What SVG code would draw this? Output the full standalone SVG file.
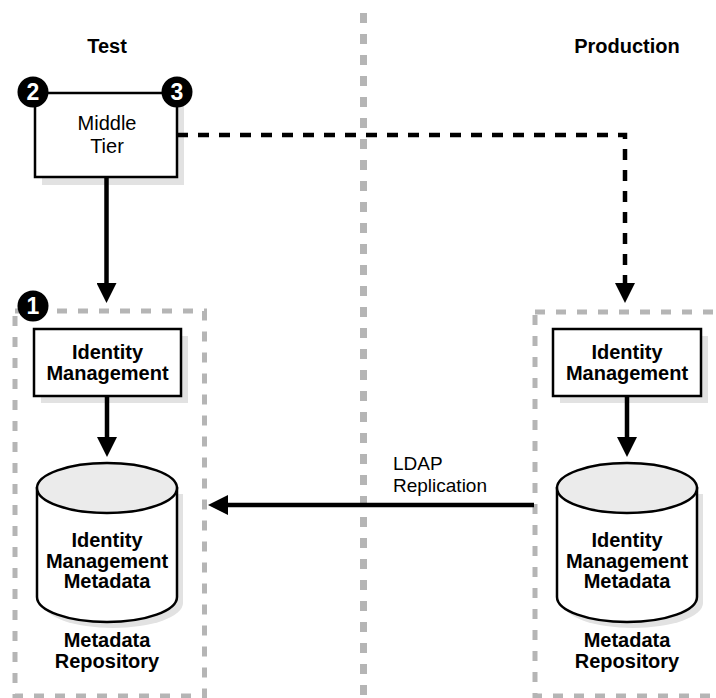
<svg xmlns="http://www.w3.org/2000/svg" width="716" height="698" viewBox="0 0 716 698">
  <defs>
    <style>
      text { font-family: "Liberation Sans", Arial, sans-serif; fill: #000; text-anchor: middle; }
      .bold { font-weight: bold; font-size: 20px; }
      .reg { font-size: 20px; }
      .box { fill: #fff; stroke: #000; stroke-width: 2.5; }
      .shadow { fill: #e2e2e2; stroke: none; }
      .cyl { fill: #fff; stroke: #000; stroke-width: 2.5; }
      .cyltop { fill: #ebebeb; stroke: #000; stroke-width: 2.5; }
      .group { fill: none; stroke: #b5b5b5; stroke-width: 5; stroke-dasharray: 10 11; }
      .divider { fill: none; stroke: #b5b5b5; stroke-width: 7; stroke-dasharray: 10 11; }
      .solid { fill: none; stroke: #000; stroke-width: 4.5; }
      .dashed { fill: none; stroke: #000; stroke-width: 4.5; stroke-dasharray: 11 10; }
      .badge { fill: #000; }
      .badge-num { fill: #fff; font-weight: bold; font-size: 23px; }
    </style>
    <marker id="arrow" markerUnits="userSpaceOnUse" markerWidth="20" markerHeight="20" refX="10" refY="10" orient="auto">
      <path d="M0,0 L20,10 L0,20 z" fill="#000"/>
    </marker>
    <!-- cylinder body / shadow outline, drawn relative to its own origin -->
    <path id="cylBody" d="M0,0 L0,109 A70,25 0 0 0 140,109 L140,0 z"/>
  </defs>

  <rect width="716" height="698" fill="#fff"/>

  <!-- dividing line between the environments -->
  <line class="divider" x1="363.5" y1="13" x2="363.5" y2="698"/>

  <!-- column headings -->
  <text class="bold" x="107" y="53">Test</text>
  <text class="bold" x="627" y="53">Production</text>

  <!-- grouping frames -->
  <g id="test-repository-group">
    <rect class="group" x="15" y="311" width="189.5" height="385"/>
  </g>
  <g id="prod-repository-group">
    <rect class="group" x="535" y="312" width="200" height="384"/>
  </g>

  <!-- Middle Tier -->
  <g id="middle-tier">
    <rect class="shadow" x="42" y="100" width="142" height="85"/>
    <rect class="box" x="35" y="93" width="142" height="84"/>
    <text class="reg" x="107" y="130">Middle</text>
    <text class="reg" x="107" y="153">Tier</text>
  </g>

  <!-- Test: Identity Management -->
  <g id="test-idm">
    <rect class="shadow" x="41" y="336" width="147" height="67"/>
    <rect class="box" x="34" y="329" width="147" height="67"/>
    <text class="bold" x="107.5" y="359">Identity</text>
    <text class="bold" x="107.5" y="380">Management</text>
  </g>

  <!-- Test: metadata repository -->
  <g id="test-repo">
    <use href="#cylBody" x="43" y="494" class="shadow"/>
    <use href="#cylBody" x="37" y="488" class="cyl"/>
    <ellipse class="cyltop" cx="107" cy="488" rx="70" ry="25"/>
    <text class="bold" x="107" y="547">Identity</text>
    <text class="bold" x="107" y="568">Management</text>
    <text class="bold" x="107" y="588">Metadata</text>
    <text class="bold" x="107" y="647">Metadata</text>
    <text class="bold" x="107" y="668">Repository</text>
  </g>

  <!-- Production: Identity Management -->
  <g id="prod-idm">
    <rect class="shadow" x="560" y="336" width="148" height="67"/>
    <rect class="box" x="553" y="329" width="148" height="67"/>
    <text class="bold" x="627" y="359">Identity</text>
    <text class="bold" x="627" y="380">Management</text>
  </g>

  <!-- Production: metadata repository -->
  <g id="prod-repo">
    <use href="#cylBody" x="563" y="494" class="shadow"/>
    <use href="#cylBody" x="557" y="488" class="cyl"/>
    <ellipse class="cyltop" cx="627" cy="488" rx="70" ry="25"/>
    <text class="bold" x="627" y="547">Identity</text>
    <text class="bold" x="627" y="568">Management</text>
    <text class="bold" x="627" y="588">Metadata</text>
    <text class="bold" x="627" y="647">Metadata</text>
    <text class="bold" x="627" y="668">Repository</text>
  </g>

  <!-- connectors -->
  <g id="connectors">
    <path class="solid" d="M106.5,177 V293" marker-end="url(#arrow)"/>
    <path class="dashed" d="M177,135 H625 V293" marker-end="url(#arrow)"/>
    <path class="solid" d="M107,396 V447" marker-end="url(#arrow)"/>
    <path class="solid" d="M627,396 V447" marker-end="url(#arrow)"/>
    <path class="solid" d="M534,505 H218" marker-end="url(#arrow)"/>
    <text class="reg" x="393" y="470" style="text-anchor:start; font-size:19px">LDAP</text>
    <text class="reg" x="393" y="492" style="text-anchor:start; font-size:19px">Replication</text>
  </g>

  <!-- step badges -->
  <g id="badge-1">
    <circle class="badge" cx="33" cy="306" r="15.5"/>
    <text class="badge-num" x="33" y="314">1</text>
  </g>
  <g id="badge-2">
    <circle class="badge" cx="33" cy="92" r="15.5"/>
    <text class="badge-num" x="33" y="100">2</text>
  </g>
  <g id="badge-3">
    <circle class="badge" cx="177" cy="92" r="15.5"/>
    <text class="badge-num" x="177" y="100">3</text>
  </g>
</svg>
